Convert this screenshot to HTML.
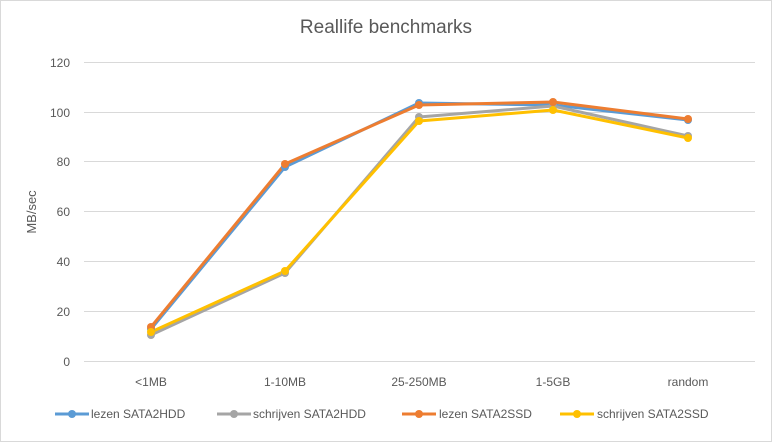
<!DOCTYPE html>
<html><head><meta charset="utf-8"><style>
html,body{margin:0;padding:0;background:#fff;}
svg{display:block;font-family:"Liberation Sans",sans-serif;}
</style></head><body>
<svg width="772" height="443" viewBox="0 0 772 443">
<rect x="0.5" y="0.5" width="771" height="441" fill="#fff" stroke="#d9d9d9"/>
<text x="386" y="33" text-anchor="middle" font-size="19" fill="#595959">Reallife benchmarks</text>
<g stroke="#d9d9d9" stroke-width="1">
<line x1="84" x2="755" y1="361.5" y2="361.5"/>
<line x1="84" x2="755" y1="311.5" y2="311.5"/>
<line x1="84" x2="755" y1="261.5" y2="261.5"/>
<line x1="84" x2="755" y1="211.5" y2="211.5"/>
<line x1="84" x2="755" y1="161.5" y2="161.5"/>
<line x1="84" x2="755" y1="112.5" y2="112.5"/>
<line x1="84" x2="755" y1="62.5" y2="62.5"/>
</g>
<g font-size="12" fill="#595959" text-anchor="end">
<text x="70" y="366">0</text><text x="70" y="316">20</text><text x="70" y="266">40</text>
<text x="70" y="216">60</text><text x="70" y="166">80</text><text x="70" y="117">100</text><text x="70" y="67">120</text>
</g>
<text transform="translate(36,212) rotate(-90)" text-anchor="middle" font-size="13" fill="#595959">MB/sec</text>
<g font-size="12" fill="#595959" text-anchor="middle">
<text x="151" y="386">&lt;1MB</text><text x="285" y="386">1-10MB</text><text x="419" y="386">25-250MB</text>
<text x="553" y="386">1-5GB</text><text x="688" y="386">random</text>
</g>
<g fill="none" stroke-width="3" stroke-linejoin="round">
<polyline stroke="#5b9bd5" points="151,329 285,167 419,103 553,105 688,120"/>
<polyline stroke="#a5a5a5" points="151,335 285,273 419,117 553,106 688,136"/>
<polyline stroke="#ed7d31" points="151,327 285,164 419,105 553,102 688,119"/>
<polyline stroke="#ffc000" points="151,332 285,271 419,121 553,110 688,138"/>
</g>
<g fill="#5b9bd5"><circle cx="151" cy="329" r="4"/><circle cx="285" cy="167" r="4"/><circle cx="419" cy="103" r="4"/><circle cx="553" cy="105" r="4"/><circle cx="688" cy="120" r="4"/></g>
<g fill="#a5a5a5"><circle cx="151" cy="335" r="4"/><circle cx="285" cy="273" r="4"/><circle cx="419" cy="117" r="4"/><circle cx="553" cy="106" r="4"/><circle cx="688" cy="136" r="4"/></g>
<g fill="#ed7d31"><circle cx="151" cy="327" r="4"/><circle cx="285" cy="164" r="4"/><circle cx="419" cy="105" r="4"/><circle cx="553" cy="102" r="4"/><circle cx="688" cy="119" r="4"/></g>
<g fill="#ffc000"><circle cx="151" cy="332" r="4"/><circle cx="285" cy="271" r="4"/><circle cx="419" cy="121" r="4"/><circle cx="553" cy="110" r="4"/><circle cx="688" cy="138" r="4"/></g>
<g font-size="12" fill="#595959">
<line x1="55" x2="89" y1="414" y2="414" stroke="#5b9bd5" stroke-width="3"/><circle cx="72" cy="414" r="4" fill="#5b9bd5"/>
<text x="91" y="418">lezen SATA2HDD</text>
<line x1="217" x2="251" y1="414" y2="414" stroke="#a5a5a5" stroke-width="3"/><circle cx="234" cy="414" r="4" fill="#a5a5a5"/>
<text x="253" y="418">schrijven SATA2HDD</text>
<line x1="402" x2="436" y1="414" y2="414" stroke="#ed7d31" stroke-width="3"/><circle cx="419" cy="414" r="4" fill="#ed7d31"/>
<text x="439" y="418">lezen SATA2SSD</text>
<line x1="560" x2="594" y1="414" y2="414" stroke="#ffc000" stroke-width="3"/><circle cx="577" cy="414" r="4" fill="#ffc000"/>
<text x="597" y="418">schrijven SATA2SSD</text>
</g>
</svg>
</body></html>
